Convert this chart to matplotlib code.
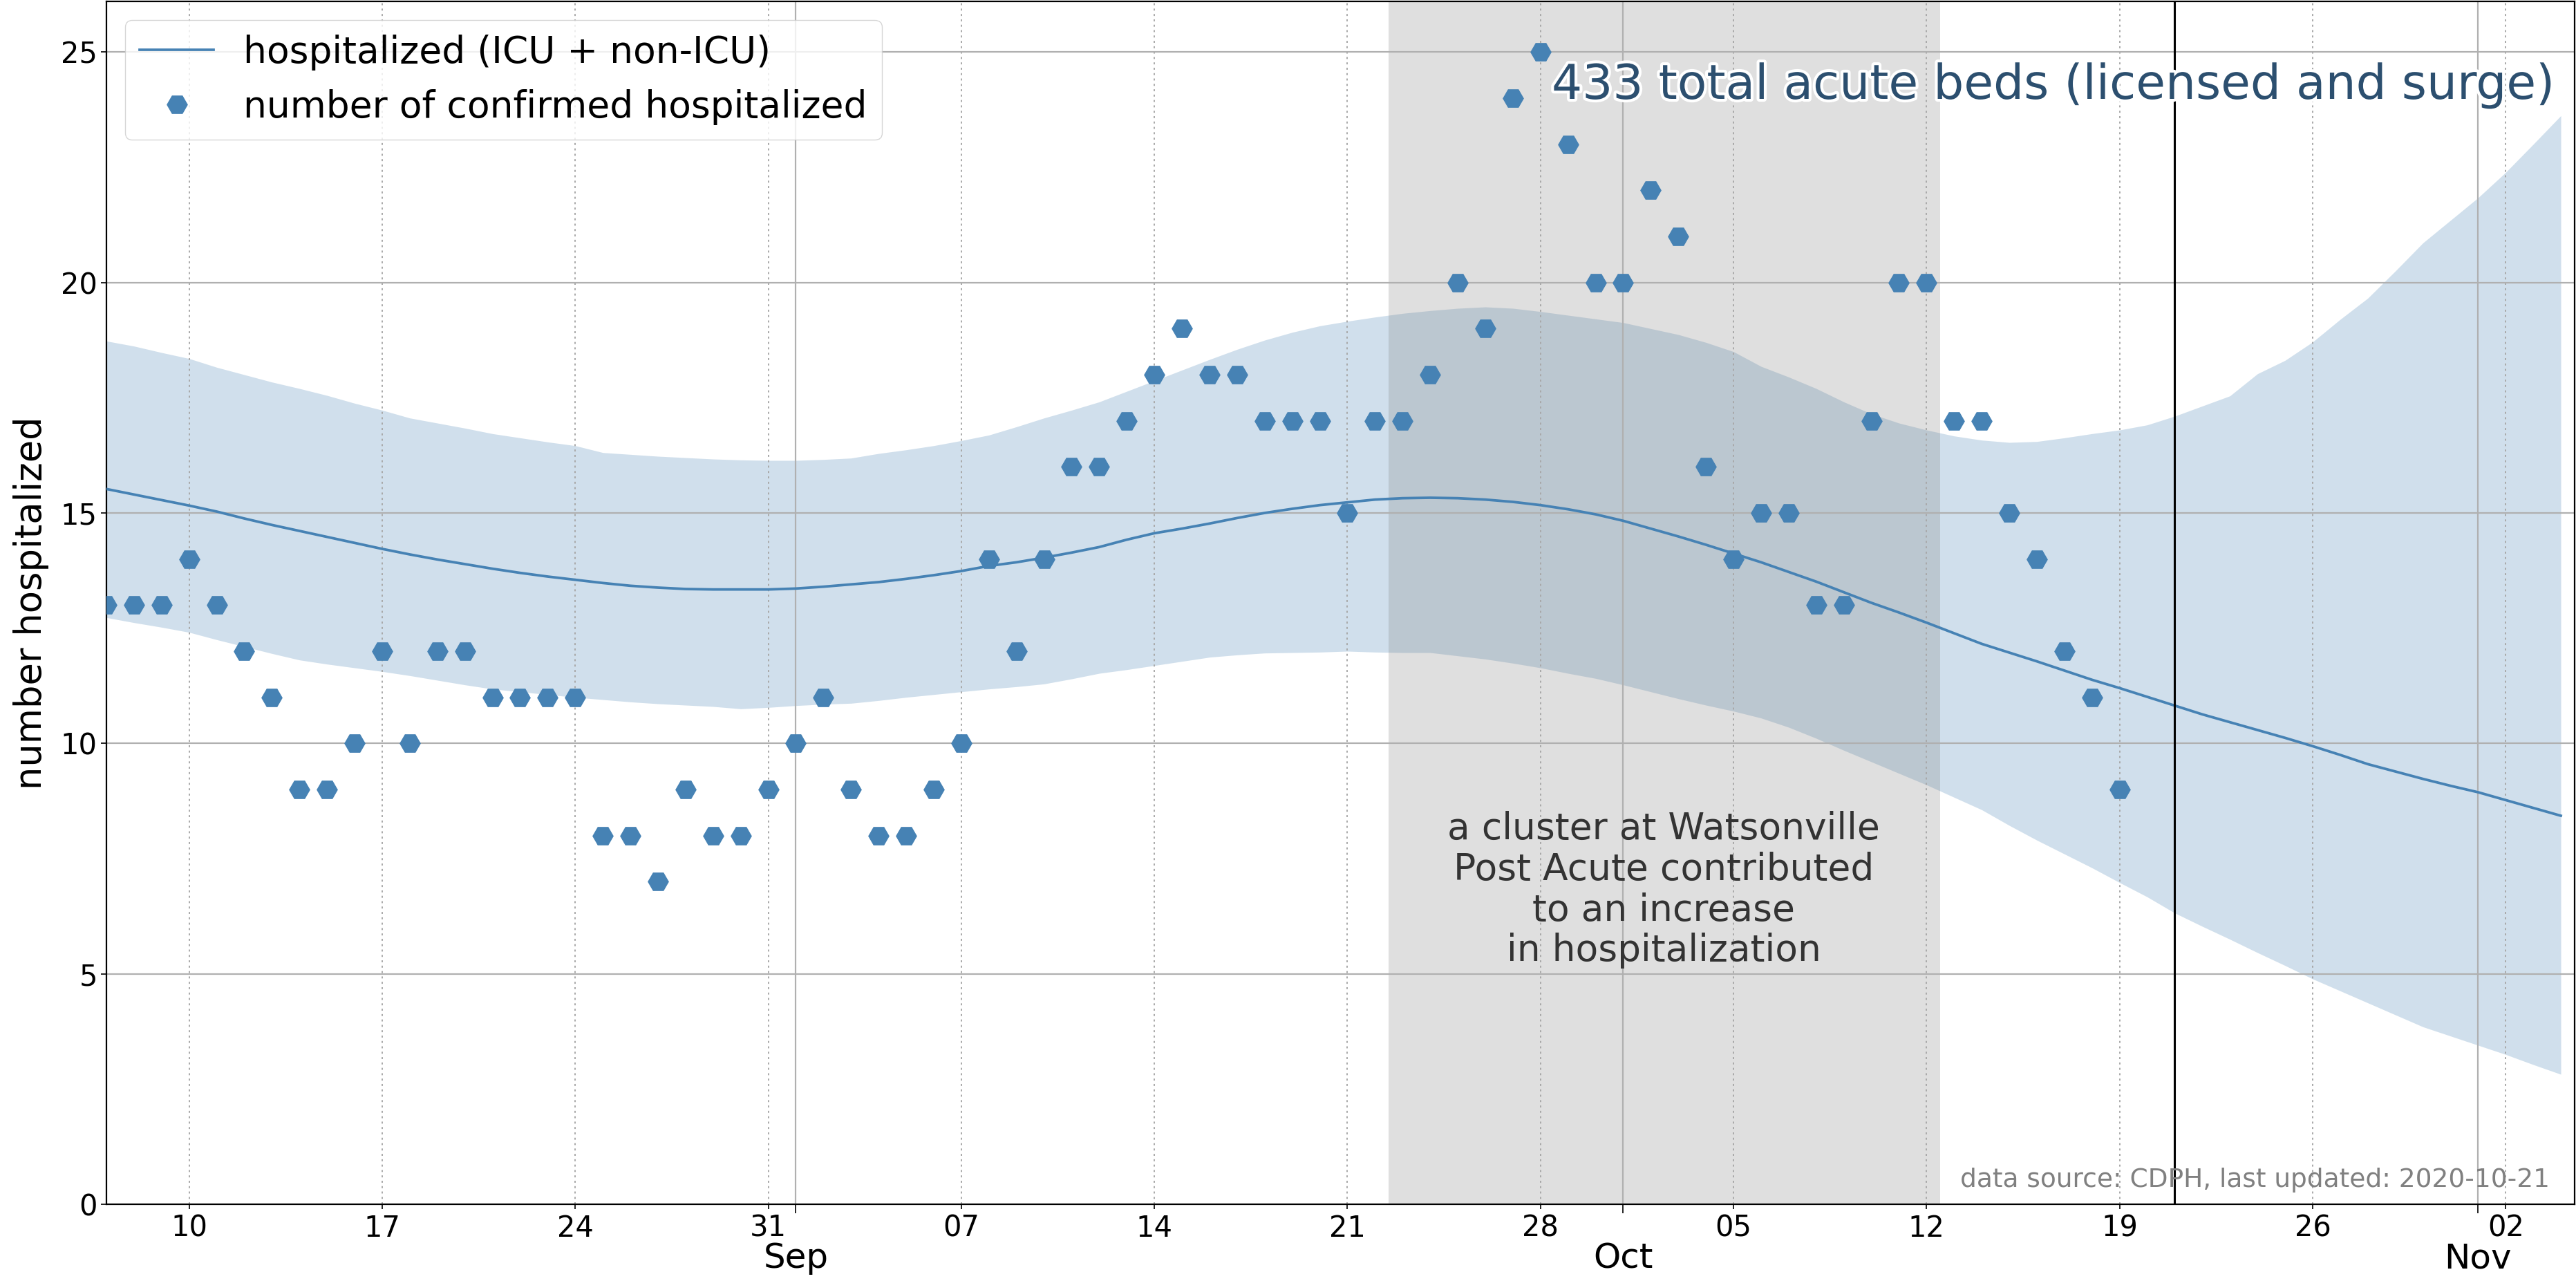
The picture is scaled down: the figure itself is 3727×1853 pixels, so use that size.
import numpy as np
import pandas as pd
import matplotlib
matplotlib.use("Agg")
import matplotlib.pyplot as plt
import matplotlib.dates as mdates
import matplotlib.patheffects as pe

# ---------------- data ----------------
obs_start = "2020-08-07"
hospitalized = [13, 13, 13, 14, 13, 12, 11, 9, 9, 10, 12, 10, 12, 12, 11, 11, 11, 11,
                8, 8, 7, 9, 8, 8, 9,                      # Aug 7 - Aug 31
                10, 11, 9, 8, 8, 9, 10, 14, 12, 14, 16, 16, 17, 18, 19, 18, 18, 17,
                17, 17, 15, 17, 17, 18, 20, 19, 24, 25, 23, 20,   # Sep
                20, 22, 21, 16, 14, 15, 15, 13, 13, 17, 20, 20, 17, 17, 15, 14,
                12, 11, 9]                                # Oct 1 - Oct 19

fit_start = "2020-08-07"
fit_mean = [15.52, 15.40, 15.28, 15.16, 15.03, 14.88, 14.74, 14.61, 14.48, 14.35,
            14.22, 14.10, 13.99, 13.89, 13.79, 13.70, 13.62, 13.55, 13.48, 13.42,
            13.38, 13.35, 13.34, 13.34, 13.34, 13.36, 13.40, 13.45, 13.50, 13.57,
            13.65, 13.74, 13.85, 13.93, 14.03, 14.14, 14.26, 14.42, 14.56, 14.66,
            14.77, 14.89, 15.00, 15.09, 15.17, 15.23, 15.29, 15.32, 15.33, 15.32,
            15.29, 15.24, 15.17, 15.08, 14.97, 14.83, 14.66, 14.49, 14.31, 14.12,
            13.93, 13.72, 13.51, 13.28, 13.05, 12.84, 12.62, 12.39, 12.16, 11.97,
            11.78, 11.58, 11.38, 11.20, 11.01, 10.82, 10.63, 10.46, 10.29, 10.12,
            9.94, 9.75, 9.55, 9.39, 9.23, 9.08, 8.94, 8.77, 8.60, 8.43]
fit_upper = [18.73, 18.62, 18.48, 18.35, 18.16, 18.00, 17.84, 17.70, 17.55, 17.38,
             17.23, 17.06, 16.95, 16.84, 16.72, 16.63, 16.54, 16.46, 16.31, 16.27,
             16.23, 16.20, 16.17, 16.15, 16.14, 16.14, 16.16, 16.19, 16.29, 16.37,
             16.46, 16.57, 16.69, 16.87, 17.06, 17.23, 17.41, 17.64, 17.87, 18.10,
             18.33, 18.55, 18.75, 18.92, 19.06, 19.16, 19.25, 19.33, 19.39, 19.44,
             19.47, 19.44, 19.37, 19.29, 19.21, 19.13, 19.00, 18.87, 18.70, 18.50,
             18.18, 17.95, 17.70, 17.41, 17.15, 16.95, 16.80, 16.67, 16.58, 16.53,
             16.55, 16.63, 16.72, 16.80, 16.91, 17.10, 17.32, 17.54, 18.02, 18.31,
             18.71, 19.20, 19.66, 20.25, 20.86, 21.35, 21.84, 22.39, 23.00, 23.62]
fit_lower = [12.73, 12.62, 12.52, 12.41, 12.25, 12.10, 11.95, 11.81, 11.72, 11.64,
             11.56, 11.47, 11.37, 11.27, 11.18, 11.12, 11.06, 11.00, 10.95, 10.90,
             10.86, 10.83, 10.80, 10.75, 10.78, 10.82, 10.85, 10.87, 10.93, 11.00,
             11.06, 11.12, 11.18, 11.23, 11.29, 11.40, 11.52, 11.60, 11.69, 11.78,
             11.87, 11.92, 11.96, 11.97, 11.98, 12.00, 11.98, 11.97, 11.97, 11.90,
             11.83, 11.74, 11.64, 11.52, 11.41, 11.27, 11.12, 10.97, 10.83, 10.70,
             10.55, 10.35, 10.11, 9.85, 9.60, 9.35, 9.10, 8.83, 8.56, 8.22,
             7.90, 7.60, 7.30, 6.98, 6.67, 6.32, 6.03, 5.75, 5.46, 5.18,
             4.89, 4.63, 4.37, 4.11, 3.85, 3.65, 3.45, 3.25, 3.03, 2.82]

cluster_start = "2020-09-22 12:00"
cluster_end = "2020-10-12 12:00"
last_updated = "2020-10-21"

label_fit = "hospitalized (ICU + non-ICU)"
label_obs = "number of confirmed hospitalized"
beds_text = "433 total acute beds (licensed and surge)"
cluster_text = "a cluster at Watsonville\nPost Acute contributed\nto an increase\nin hospitalization"
source_text = "data source: CDPH, last updated: 2020-10-21"
y_label = "number hospitalized"
y_ticks = [0, 5, 10, 15, 20, 25]

obs_dates = pd.date_range(obs_start, periods=len(hospitalized), freq="D")
fit_dates = pd.date_range(fit_start, periods=len(fit_mean), freq="D")

# ---------------- figure ----------------
W, H = 3727, 1853
fig = plt.figure(figsize=(W / 100, H / 100), dpi=100)
ax = fig.add_axes([154 / W, (H - 1742) / H, (3725 - 154) / W, (1742 - 2) / H])

blue = "#4682b4"
ax.fill_between(fit_dates, fit_lower, fit_upper, color=blue, alpha=0.25, linewidth=0)
ax.axvspan(pd.Timestamp(cluster_start), pd.Timestamp(cluster_end),
           color="gray", alpha=0.25, linewidth=0)
ax.plot(fit_dates, fit_mean, color=blue, lw=2.7, label=label_fit, zorder=3)
ax.plot(obs_dates, hospitalized, linestyle="none", marker="H", markersize=21,
        color=blue, label=label_obs, zorder=4)
ax.axvline(pd.Timestamp(last_updated), color="black", lw=2.2, zorder=5)

ax.set_xlim(pd.Timestamp("2020-08-07"), pd.Timestamp("2020-11-04 12:00"))
ax.set_ylim(0, 26.1)
ax.set_yticks(y_ticks)

ax.xaxis.set_major_locator(mdates.MonthLocator())
ax.xaxis.set_major_formatter(mdates.DateFormatter("%b"))
ax.xaxis.set_minor_locator(mdates.WeekdayLocator(byweekday=mdates.MO))
ax.xaxis.set_minor_formatter(mdates.DateFormatter("%d"))

ax.tick_params(axis="x", which="minor", labelsize=30, length=5, width=1.2, pad=5)
ax.tick_params(axis="x", which="major", labelsize=36, length=9, width=1.2, pad=30)
ax.tick_params(axis="y", labelsize=30, length=6, width=1.2)

ax.grid(True, which="major", axis="both", color="#b0b0b0", lw=1.6, linestyle="-")
ax.grid(True, which="minor", axis="x", color="#a8a8a8", lw=1.4,
        linestyle=(0, (1.5, 2.5)))

for s in ax.spines.values():
    s.set_color("black")
    s.set_linewidth(1.6)

ax.set_ylabel(y_label, fontsize=38, labelpad=12)

leg = ax.legend(loc="upper left", fontsize=38.5, numpoints=1, framealpha=0.8)

ax.text((2245 - 154) / 3571, (1742 - 143) / 1740, beds_text, transform=ax.transAxes,
        ha="left", va="baseline", fontsize=50, color="#2c4f6f", zorder=6,
        path_effects=[pe.withStroke(linewidth=6, foreground="white")])

ax.text((2407 - 154) / 3571, (1742 - 1287) / 1740, cluster_text, transform=ax.transAxes,
        ha="center", va="center", fontsize=38.5, color="#333333", linespacing=1.17,
        multialignment="center", zorder=6)

ax.text((3689 - 154) / 3571, (1742 - 1717) / 1740, source_text, transform=ax.transAxes,
        ha="right", va="baseline", fontsize=27, color="gray", zorder=6)

fig.savefig("out.png", dpi=100)
